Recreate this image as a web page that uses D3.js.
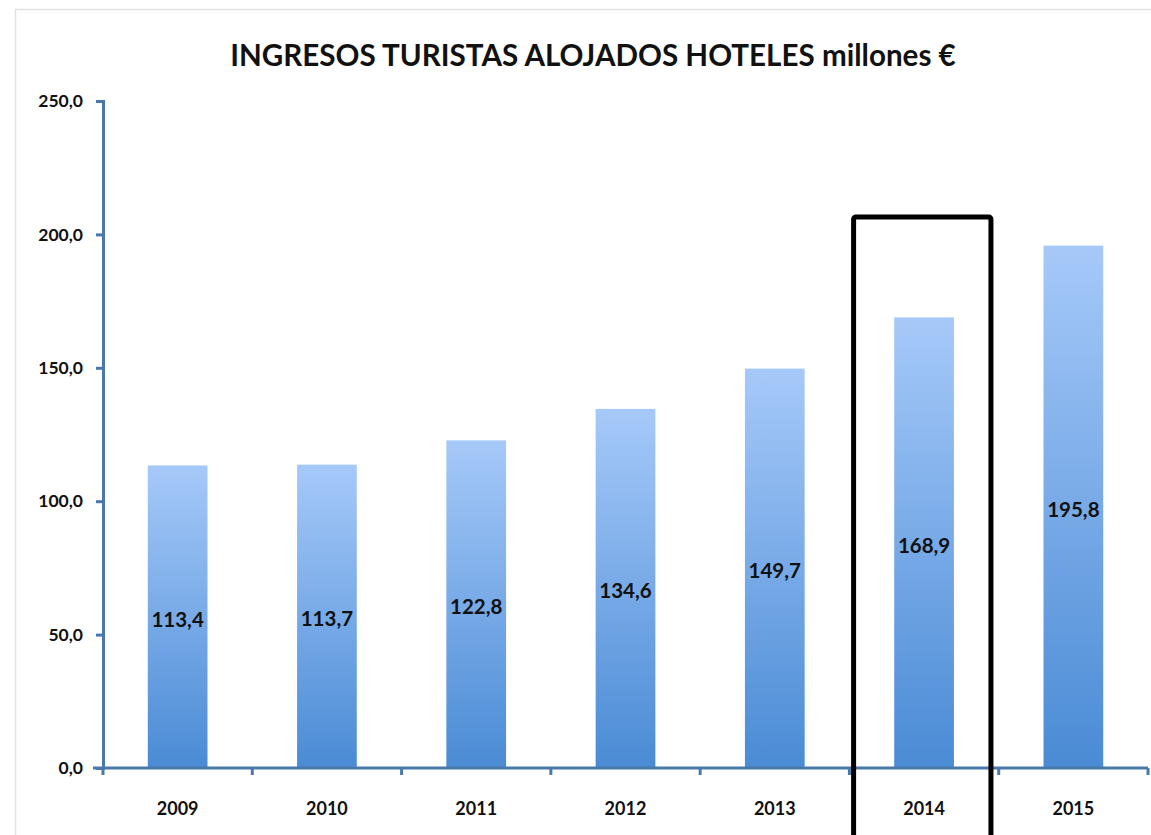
<!DOCTYPE html>
<html>
<head>
<meta charset="utf-8">
<script src="https://cdn.jsdelivr.net/npm/d3@7"></script>
<style>
  body { margin: 0; background: #fff; }
  text { font-family: Lato, "Open Sans", sans-serif; font-weight: bold; fill: #111; }
</style>
</head>
<body>
<div class="chart"></div>
<script>
var years = ["2009", "2010", "2011", "2012", "2013", "2014", "2015"];
var ingresos = [113.4, 113.7, 122.8, 134.6, 149.7, 168.9, 195.8];
var yTicks = [0, 50, 100, 150, 200, 250];
var highlight = "2014";
var title = "INGRESOS TURISTAS ALOJADOS HOTELES millones €";

var w = 1151, h = 835;
var margin = {top: 101, right: 3, bottom: 67, left: 103};

var svg = d3.select(".chart")
            .append("svg")
            .attr("width", w)
            .attr("height", h);

// frame lines
svg.append("path")
   .attr("d", "M15.5," + h + "V9.5H" + w)
   .attr("fill", "none")
   .attr("stroke", "#e2e2e2")
   .attr("stroke-width", 1.5);

// gradient
var grad = svg.append("defs").append("linearGradient")
   .attr("id", "barGrad")
   .attr("x1", 0).attr("y1", 0).attr("x2", 0).attr("y2", 1);
grad.append("stop").attr("offset", "0%").attr("stop-color", "#a6c9f9");
grad.append("stop").attr("offset", "100%").attr("stop-color", "#4a8bd5");

// scales
var xScale = d3.scaleBand()
   .domain(years)
   .range([margin.left, w - margin.right])
   .paddingInner(0.6)
   .paddingOuter(0.3);

var yScale = d3.scaleLinear()
   .domain([0, 250])
   .range([h - margin.bottom, margin.top]);

// title
svg.append("text")
   .attr("x", 593)
   .attr("y", 66)
   .attr("text-anchor", "middle")
   .style("font-size", "29.6px")
   .text(title);

// bars
svg.selectAll("rect.bar")
   .data(ingresos)
   .enter()
   .append("rect")
   .attr("class", "bar")
   .attr("x", (d, i) => xScale(years[i]))
   .attr("y", (d) => yScale(d))
   .attr("width", xScale.bandwidth())
   .attr("height", (d) => yScale(0) - yScale(d))
   .attr("fill", "url(#barGrad)");

// value labels
svg.selectAll("text.val")
   .data(ingresos)
   .enter()
   .append("text")
   .attr("class", "val")
   .attr("x", (d, i) => xScale(years[i]) + xScale.bandwidth() / 2)
   .attr("y", (d) => (yScale(d) + yScale(0)) / 2 + 10)
   .attr("text-anchor", "middle")
   .style("font-size", "20.5px")
   .text((d) => d3.format(".1f")(d).replace(".", ","));

// axes
var axisColor = "#4a78ad";
var fmt = (d) => d3.format(".1f")(d).replace(".", ",");

var yAxis = svg.append("g")
   .attr("transform", "translate(" + margin.left + ",0)")
   .call(d3.axisLeft(yScale).tickValues(yTicks).tickFormat(fmt).tickSize(7).tickPadding(13));

var step = xScale.step();
var xEdges = d3.range(years.length + 1).map((i) => margin.left + i * step);
var xAxis = svg.append("g")
   .attr("transform", "translate(0," + yScale(0) + ")");
xAxis.append("line")
   .attr("x1", margin.left - 10).attr("x2", xEdges[xEdges.length - 1])
   .attr("stroke", axisColor).attr("stroke-width", 3);
xAxis.selectAll("line.tick")
   .data(xEdges)
   .enter()
   .append("line")
   .attr("class", "tick")
   .attr("x1", (d) => d).attr("x2", (d) => d)
   .attr("y1", 0).attr("y2", 7)
   .attr("stroke", axisColor).attr("stroke-width", 3);
xAxis.selectAll("text")
   .data(years)
   .enter()
   .append("text")
   .attr("x", (d) => xScale(d) + xScale.bandwidth() / 2)
   .attr("y", 47)
   .attr("text-anchor", "middle")
   .style("font-size", "18px")
   .text((d) => d);

yAxis.select(".domain").attr("stroke", axisColor).attr("stroke-width", 3);
yAxis.selectAll(".tick line").attr("stroke", axisColor).attr("stroke-width", 3);
yAxis.selectAll(".tick text")
   .style("font-size", "17.5px")
   .style("font-family", "Lato, sans-serif")
   .attr("fill", "#111");

// highlight box around 2014
var hx = xScale(highlight) - xScale.bandwidth() * 0.68;
svg.append("rect")
   .attr("x", hx)
   .attr("y", yScale(206.5))
   .attr("width", xScale.bandwidth() * 2.3)
   .attr("height", 700)
   .attr("fill", "none")
   .attr("stroke", "#000")
   .attr("stroke-width", 5)
   .attr("rx", 2);
</script>
</body>
</html>
